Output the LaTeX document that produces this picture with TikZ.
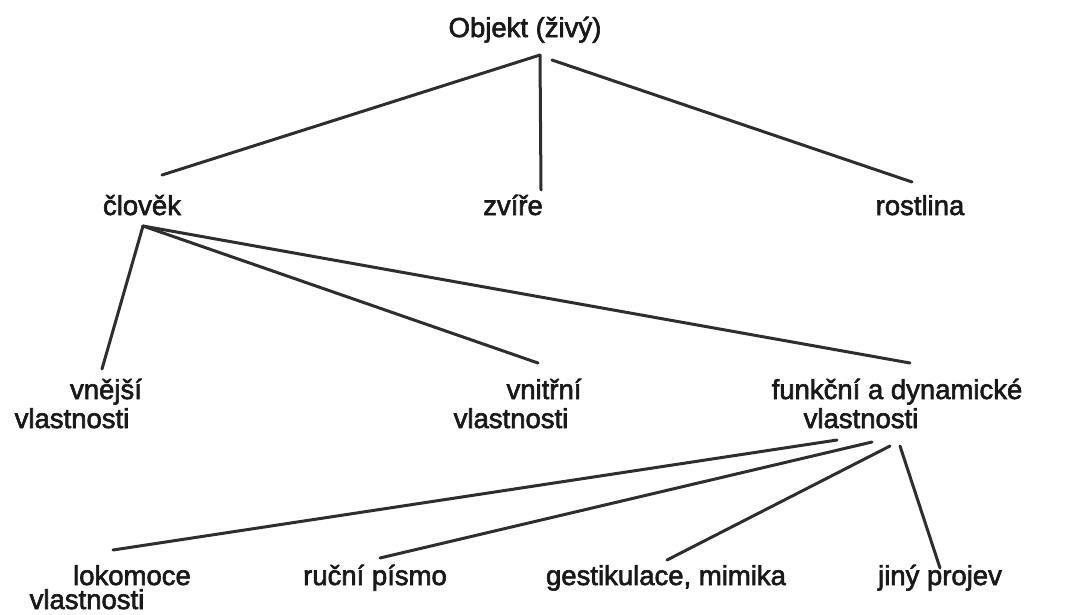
\documentclass[tikz,border=0pt]{standalone}
\usepackage{fontspec}
\setmainfont{Liberation Sans}
% slightly heavier than regular weight
\newfontfamily\labelfont{Liberation Sans}[RawFeature={embolden=2.2}]
\begin{document}
\begin{tikzpicture}[x=1pt,y=-1pt,
  lbl/.style={anchor=base,inner sep=0pt,text=black!90,font=\labelfont\fontsize{27.5}{29}\selectfont},
  edge/.style={draw=black!82,line width=3pt,line cap=round}]
\useasboundingbox (0,0) rectangle (1067,614);

% labels
\node[lbl] (obj)  at (525,37)  {Objekt (živý)};
\node[lbl] (clo)  at (142,215) {člověk};
\node[lbl] (zvi)  at (513,215) {zvíře};
\node[lbl] (ros)  at (920,215) {rostlina};

\node[lbl] (vne)  at (106,399) {vnější};
\node[lbl] (vne2) at (72,428)  {vlastnosti};
\node[lbl] (vni)  at (544,399) {vnitřní};
\node[lbl] (vni2) at (511,428) {vlastnosti};
\node[lbl] (fun)  at (897,399) {funkční a dynamické};
\node[lbl] (fun2) at (861,428) {vlastnosti};

\node[lbl] (lok)  at (132,585) {lokomoce};
\node[lbl] (lok2) at (87,609)  {vlastnosti};
\node[lbl] (ruc)  at (375,585) {ruční písmo};
\node[lbl] (ges)  at (666,585) {gestikulace, mimika};
\node[lbl] (jin)  at (940,585) {jiný projev};

% connector ends
\coordinate (obj-a) at (540,55);
\coordinate (obj-b) at (552,60);
\coordinate (clo-t) at (162,175);
\coordinate (zvi-t) at (541,190);
\coordinate (ros-t) at (912,182);

\coordinate (clo-b) at (143,226);
\coordinate (vne-t) at (102,369);
\coordinate (vni-t) at (538,363);
\coordinate (fun-t) at (910,363);

\coordinate (fun-a) at (837,440);
\coordinate (fun-b) at (872,442);
\coordinate (fun-c) at (890,446);
\coordinate (fun-d) at (900,446);
\coordinate (lok-t) at (113,550);
\coordinate (ruc-t) at (380,558);
\coordinate (ges-t) at (667,560);
\coordinate (jin-t) at (940,568);

% connectors
\draw[edge] (obj-a) -- (clo-t);
\draw[edge] (obj-a) -- (zvi-t);
\draw[edge] (obj-b) -- (ros-t);

\draw[edge] (clo-b) -- (vne-t);
\draw[edge] (clo-b) -- (vni-t);
\draw[edge] (clo-b) -- (fun-t);

\draw[edge] (fun-a) -- (lok-t);
\draw[edge] (fun-b) -- (ruc-t);
\draw[edge] (fun-c) -- (ges-t);
\draw[edge] (fun-d) -- (jin-t);
\end{tikzpicture}
\end{document}
